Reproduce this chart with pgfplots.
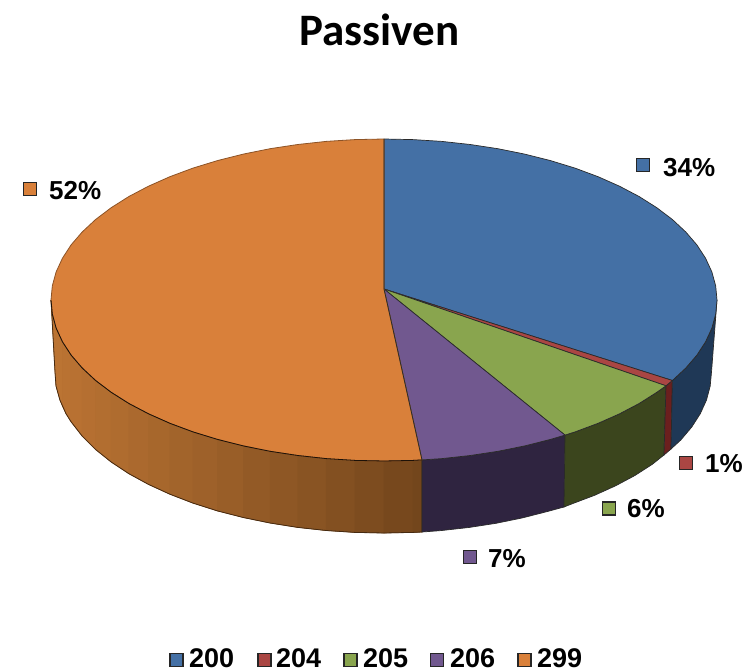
\documentclass[border=0pt]{standalone}
\usepackage{fontspec}
\setmainfont{Liberation Sans}
\newfontfamily\titlefont{Carlito}
\usepackage{pgfplots}
\pgfplotsset{compat=1.18}
\definecolor{cblue}{HTML}{4470A5}
\definecolor{cred}{HTML}{AA4643}
\definecolor{cgreen}{HTML}{89A54E}
\definecolor{cpurple}{HTML}{71588F}
\definecolor{corange}{HTML}{D9803A}
\definecolor{sblue}{HTML}{1F3856}
\definecolor{sred}{HTML}{6B1F1E}
\definecolor{sgreen}{HTML}{3B451D}
\definecolor{spurple}{HTML}{2F2440}
\definecolor{orL}{HTML}{BC7433}
\definecolor{orR}{HTML}{73461C}
\definecolor{edge}{HTML}{2A2A2A}
\newcommand\orstrip[2]{\addplot[fill=orR!#1!orL, draw=orR!#1!orL, line width=.6pt] coordinates {#2} --cycle;}
\newcommand\lab[2]{\node[anchor=west,inner sep=0pt,font=\fontsize{26}{30}\selectfont\bfseries] at (axis cs:#1) {#2};}
\newcommand\leg[2]{\node[anchor=west,inner sep=0pt,font=\fontsize{27}{30}\selectfont\bfseries] at (axis cs:#1) {#2};}
\newcommand\sq[2]{\addplot[only marks, mark=square*, mark size=6.5pt, mark options={fill=#1, draw=black!85, line width=1.5pt}] coordinates {(#2)};}
\begin{document}
\begin{tikzpicture}
\begin{axis}[scale only axis, width=745pt, height=669pt, xmin=0, xmax=745, ymin=0, ymax=669, y dir=reverse, hide axis, clip=false]
\path (axis cs:0,0) rectangle (axis cs:745,669);
% base under the bands, so that no seam shows white
\addplot[fill=orR!35!orL, draw=none] coordinates {(51,300)(52.3,314)(56.1,328)(62.4,341.7)(71.1,355.1)(82.2,368)(95.6,380.5)(111.2,392.3)(128.9,403.5)(148.5,413.8)(169.9,423.3)(193,431.9)(217.5,439.4)(243.3,445.9)(270.1,451.3)(297.8,455.5)(326.2,458.6)(355,460.4)(384,461)(413,460.4)(422,459.9)(422,532)(413,532.4)(384,533)(355,532.4)(326.2,530.5)(297.8,527.4)(270.1,523)(243.3,517.5)(217.5,510.9)(193,503.1)(169.9,494.2)(148.5,484.4)(128.9,473.7)(111.2,462)(95.6,449.5)(82.2,436.1)(71.1,421.8)(66,413.7)(59.9,400)(56,386)(55,372)} --cycle;
% side of the orange slice, in upright bands
\orstrip{1}{(51,300)(52.3,314)(56.1,328)(62.4,341.7)(62.4,406)(59.9,400)(56,386)(55,372)}
\orstrip{4}{(62.4,341.7)(71.1,355.1)(71.1,421.8)(66,413.7)(62.4,406)}
\orstrip{6}{(71.1,355.1)(82.2,368)(82.2,436.1)(71.1,421.8)}
\orstrip{10}{(82.2,368)(95.6,380.5)(95.6,449.5)(82.2,436.1)}
\orstrip{14}{(95.6,380.5)(111.2,392.3)(111.2,462)(95.6,449.5)}
\orstrip{18}{(111.2,392.3)(128.9,403.5)(128.9,473.7)(111.2,462)}
\orstrip{23}{(128.9,403.5)(148.5,413.8)(148.5,484.4)(128.9,473.7)}
\orstrip{29}{(148.5,413.8)(169.9,423.3)(169.9,494.2)(148.5,484.4)}
\orstrip{35}{(169.9,423.3)(193,431.9)(193,503.1)(169.9,494.2)}
\orstrip{41}{(193,431.9)(217.5,439.4)(217.5,510.9)(193,503.1)}
\orstrip{48}{(217.5,439.4)(243.3,445.9)(243.3,517.5)(217.5,510.9)}
\orstrip{56}{(243.3,445.9)(270.1,451.3)(270.1,523)(243.3,517.5)}
\orstrip{63}{(270.1,451.3)(297.8,455.5)(297.8,527.4)(270.1,523)}
\orstrip{70}{(297.8,455.5)(326.2,458.6)(326.2,530.5)(297.8,527.4)}
\orstrip{78}{(326.2,458.6)(355,460.4)(355,532.4)(326.2,530.5)}
\orstrip{86}{(355,460.4)(384,461)(384,533)(355,532.4)}
\orstrip{95}{(384,461)(413,460.4)(413,532.4)(384,533)}
\orstrip{100}{(413,460.4)(422,459.9)(422,532)(413,532.4)}
% outline of the orange side
\addplot[draw=black!40!orR, line width=.8pt] coordinates {(51,300)(55,372)(56,386)(59.9,400)(66,413.7)(71.1,421.8)(82.2,436.1)(95.6,449.5)(111.2,462)(128.9,473.7)(148.5,484.4)(169.9,494.2)(193,503.1)(217.5,510.9)(243.3,517.5)(270.1,523)(297.8,527.4)(326.2,530.5)(355,532.4)(384,533)(413,532.4)(422,532)(422,459.9)};
% side of the purple slice
\addplot[fill=spurple, draw=edge, line width=.7pt] coordinates {(422,459.9)(441.8,458.6)(470.2,455.5)(497.9,451.3)(524.7,445.9)(550.5,439.4)(565,435.1)(564,507)(547.8,511.4)(522.4,517.9)(496,523.3)(468.8,527.5)(440.8,530.6)(422,532)} --cycle;
% side of the green slice
\addplot[fill=sgreen, draw=edge, line width=.7pt] coordinates {(565,435.1)(575,431.9)(598.1,423.3)(619.5,413.8)(639.1,403.5)(656.8,392.3)(666,385.8)(664,455)(652.3,464.3)(634.9,475.5)(615.6,485.8)(594.6,495.3)(571.8,503.9)(564,507)} --cycle;
% side of the red slice
\addplot[fill=sred, draw=edge, line width=.7pt] coordinates {(666,385.8)(672.4,380.5)(671,449)(664,455)} --cycle;
% side of the blue slice
\addplot[fill=sblue, draw=edge, line width=.7pt] coordinates {(717,300)(715.7,314)(711.9,328)(705.6,341.7)(696.9,355.1)(685.8,368)(672.4,380.5)(671,449)(680.8,440)(691.7,427.1)(700.3,413.7)(706.5,400)(710.2,386)(711.5,372)} --cycle;
% top: 200
\addplot[fill=cblue, draw=edge, line width=.7pt] coordinates {(384,289)(384,139)(413,139.6)(441.8,141.4)(470.2,144.5)(497.9,148.7)(524.7,154.1)(550.5,160.6)(575,168.1)(598.1,176.7)(619.5,186.2)(639.1,196.5)(656.8,207.7)(672.4,219.5)(685.8,232)(696.9,244.9)(705.6,258.3)(711.9,272)(715.7,286)(717,300)(715.7,314)(711.9,328)(705.6,341.7)(696.9,355.1)(685.8,368)(672.4,380.5)} --cycle;
% top: 204
\addplot[fill=cred, draw=edge, line width=.7pt] coordinates {(384,289)(672.4,380.5)(666,385.8)} --cycle;
% top: 205
\addplot[fill=cgreen, draw=edge, line width=.7pt] coordinates {(384,289)(666,385.8)(656.8,392.3)(639.1,403.5)(619.5,413.8)(598.1,423.3)(575,431.9)(565,435.1)} --cycle;
% top: 206
\addplot[fill=cpurple, draw=edge, line width=.7pt] coordinates {(384,289)(565,435.1)(550.5,439.4)(524.7,445.9)(497.9,451.3)(470.2,455.5)(441.8,458.6)(422,459.9)} --cycle;
% top: 299
\addplot[fill=corange, draw=black!35!corange, line width=.8pt] coordinates {(384,289)(422,459.9)(413,460.4)(384,461)(355,460.4)(326.2,458.6)(297.8,455.5)(270.1,451.3)(243.3,445.9)(217.5,439.4)(193,431.9)(169.9,423.3)(148.5,413.8)(128.9,403.5)(111.2,392.3)(95.6,380.5)(82.2,368)(71.1,355.1)(62.4,341.7)(56.1,328)(52.3,314)(51,300)(52.3,286)(56.1,272)(62.4,258.3)(71.1,244.9)(82.2,232)(95.6,219.5)(111.2,207.7)(128.9,196.5)(148.5,186.2)(169.9,176.7)(193,168.1)(217.5,160.6)(243.3,154.1)(270.1,148.7)(297.8,144.5)(326.2,141.4)(355,139.6)(384,139)} --cycle;
\addplot[draw=black!75!orR, line width=.8pt] coordinates {(422,459.9)(413,460.4)(384,461)(355,460.4)(326.2,458.6)(297.8,455.5)(270.1,451.3)(243.3,445.9)(217.5,439.4)(193,431.9)(169.9,423.3)(148.5,413.8)(128.9,403.5)(111.2,392.3)(95.6,380.5)(82.2,368)(71.1,355.1)(62.4,341.7)(56.1,328)(52.3,314)(51,300)};
\addplot[draw=edge, line width=.7pt] coordinates {(384,139)(384,289)(422,459.9)};
% data label keys
\sq{cblue}{643,165}
\sq{corange}{30,189}
\sq{cred}{686,463}
\sq{cgreen}{609,508.5}
\sq{cpurple}{470,557}
% legend keys
\sq{cblue}{176.5,660}
\sq{cred}{264.5,660}
\sq{cgreen}{350.5,660}
\sq{cpurple}{437,660}
\sq{corange}{524.5,660}
\lab{663,168}{34\%}
\lab{49,191}{52\%}
\lab{705,464}{1\%}
\lab{627,509}{6\%}
\lab{488,559}{7\%}
\leg{189,658}{200}
\leg{276,658}{204}
\leg{363,658}{205}
\leg{450,658}{206}
\leg{537,658}{299}
\node[font=\titlefont\fontsize{45}{50}\selectfont\bfseries] at (axis cs:379.5,30) {Passiven};
\end{axis}
\end{tikzpicture}
\end{document}
